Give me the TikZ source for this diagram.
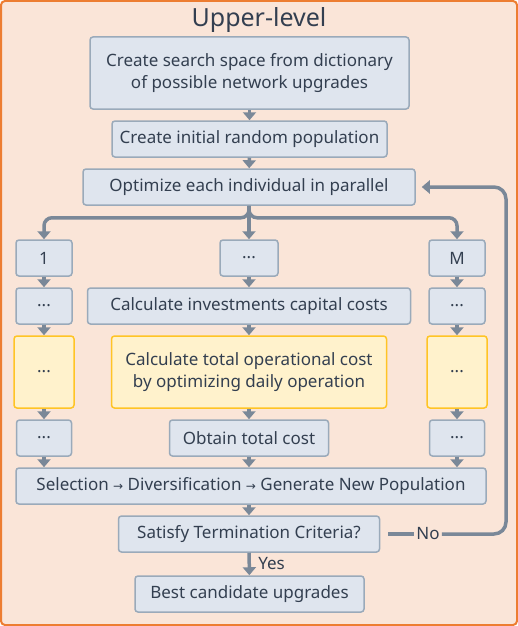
\documentclass[tikz,border=0pt]{standalone}
\usepackage{fontspec}
\setmainfont{Noto Sans}
\newfontfamily\arrowfont{DejaVu Sans}
\usetikzlibrary{arrows.meta,calc}
\definecolor{frameorange}{HTML}{ED7D31}
\definecolor{framefill}{HTML}{FAE5D8}
\definecolor{boxfill}{HTML}{DFE5EE}
\definecolor{boxline}{HTML}{9AAABA}
\definecolor{optfill}{HTML}{FFF2CC}
\definecolor{optline}{HTML}{FFC425}
\definecolor{arrowgray}{HTML}{7A8898}
\definecolor{textdark}{HTML}{333F50}
\newcommand{\rarr}{{\arrowfont\fontsize{12}{12}\selectfont →}}
\tikzset{
  labeltext/.style={text=textdark, font=\fontsize{17}{21.5}\selectfont},
  stepbox/.style={labeltext, draw=boxline, fill=boxfill, line width=1.5pt, rounded corners=3pt,
    align=center, inner sep=0pt},
  optbox/.style={stepbox, draw=optline, fill=optfill},
  flow/.style={-{Triangle[width=13pt,length=8pt]}, line width=3.5pt, draw=arrowgray},
}
\begin{document}
\begin{tikzpicture}[x=1pt,y=-1pt]
\useasboundingbox (0,0) rectangle (518,626);
\draw[frameorange, fill=framefill, line width=2pt, rounded corners=4pt] (1,1) rectangle (517,625);
\node[text=textdark, font=\fontsize{25}{30}\selectfont] (title) at (259,20) {Upper-level};
\node[stepbox, minimum width=319pt, minimum height=72pt] (space) at (249.5,73) {Create search space from dictionary\\of possible network upgrades};
\node[stepbox, minimum width=275pt, minimum height=36pt] (init) at (249.5,139) {Create initial random population};
\node[stepbox, minimum width=332pt, minimum height=36pt] (opt) at (249,187) {Optimize each individual in parallel};
\node[stepbox, minimum width=56pt, minimum height=36pt] (l1) at (44,258) {1};
\node[stepbox, minimum width=58pt, minimum height=36pt] (c1) at (249,258) {...};
\node[stepbox, minimum width=56pt, minimum height=36pt] (r1) at (457,258) {M};
\node[stepbox, minimum width=56pt, minimum height=36pt] (l2) at (44,306) {...};
\node[stepbox, minimum width=323pt, minimum height=36pt] (c2) at (249,306) {Calculate investments capital costs};
\node[stepbox, minimum width=56pt, minimum height=36pt] (r2) at (457,306) {...};
\node[optbox, minimum width=60pt, minimum height=72pt] (l3) at (44,372) {...};
\node[optbox, minimum width=275pt, minimum height=72pt] (c3) at (249,372) {Calculate total operational cost\\by optimizing daily operation};
\node[optbox, minimum width=60pt, minimum height=72pt] (r3) at (457,372) {...};
\node[stepbox, minimum width=55pt, minimum height=36pt] (l4) at (44,438) {...};
\node[stepbox, minimum width=159pt, minimum height=36pt] (c4) at (249,438) {Obtain total cost};
\node[stepbox, minimum width=55pt, minimum height=36pt] (r4) at (457,438) {...};
\node[stepbox, minimum width=470pt, minimum height=36pt] (sel) at (251,486) {Selection \rarr{} Diversification \rarr{} Generate New Population};
\node[stepbox, minimum width=261pt, minimum height=36pt] (term) at (249,534) {Satisfy Termination Criteria?};
\node[stepbox, minimum width=229pt, minimum height=36pt] (best) at (249.5,594) {Best candidate upgrades};
\node[labeltext, inner sep=2pt] (no) at (428,534) {No};
\coordinate (loop) at (506,187);
\draw[flow] (space) -- (init);
\draw[flow] (init) -- (opt);
\draw[flow] (opt.south) -- (opt.south |- c1.north);
\draw[flow, rounded corners=8pt] (opt.south) -- ++(0,12) -| (l1.north);
\draw[flow, rounded corners=8pt] (opt.south) -- ++(0,12) -| (r1.north);
\foreach \col in {l,c,r}{
  \draw[flow] (\col1.south) -- (\col1.south |- \col2.north);
  \draw[flow] (\col2.south) -- (\col2.south |- \col3.north);
  \draw[flow] (\col3.south) -- (\col3.south |- \col4.north);
  \draw[flow] (\col4.south) -- (\col4.south |- sel.north);
}
\draw[flow] (sel.south -| term.north) -- (term.north);
\draw[flow] (term) -- node[labeltext, right=4pt] (yes) {Yes} (best);
\draw[line width=3.5pt, arrowgray] ($(term.east)+(8,0)$) -- (no.west);
\draw[flow, rounded corners=12pt] (no.east) -| (loop) -- ($(opt.east)+(6,0)$);
\end{tikzpicture}
\end{document}
